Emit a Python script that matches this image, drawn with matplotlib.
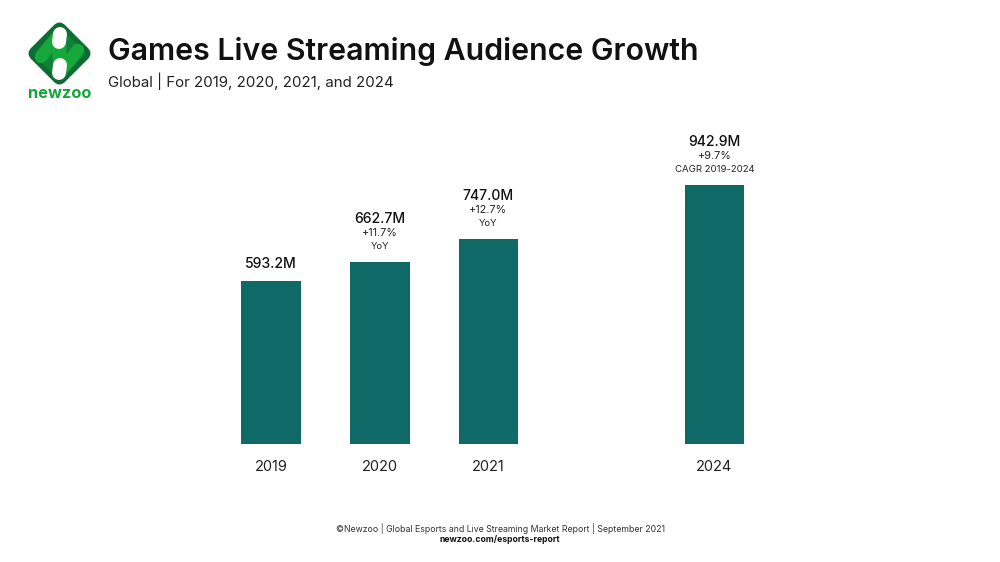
import numpy as np
import matplotlib
matplotlib.use('Agg')
import matplotlib.pyplot as plt
from matplotlib.patches import FancyBboxPatch, Polygon
from matplotlib.transforms import Affine2D

years = ['2019', '2020', '2021', '2024']
audience = [593.2, 662.7, 747.0, 942.9]
growth = ['', '+11.7%', '+12.7%', '+9.7%']
growth_note = ['', 'YoY', 'YoY', 'CAGR 2019-2024']
bar_x = [0, 1.005, 2, 4.08]

title = 'Games Live Streaming Audience Growth'
subtitle = 'Global | For 2019, 2020, 2021, and 2024'
source = '©Newzoo | Global Esports and Live Streaming Market Report | September 2021'
link = 'newzoo.com/esports-report'

plt.rcParams['font.family'] = ['Inter', 'DejaVu Sans']
TEAL = '#0f6a67'
INK = '#111111'

W, H = 1000, 562
fig = plt.figure(figsize=(10, 5.62), dpi=100, facecolor='white')

# bars
ax = fig.add_axes([0.2, 1 - 444 / H, 0.6, 300 / H])
ax.bar(bar_x, audience, width=0.547, color=TEAL)
ax.set_xlim(-0.653, 4.867)
ax.set_ylim(0, 300 / 0.2747)
ax.set_yticks([])
ax.set_xticks(bar_x)
ax.set_xticklabels(years, fontsize=10.5, color='#222222')
ax.tick_params(axis='x', length=0, pad=11.5)
for s in ax.spines.values():
    s.set_visible(False)
ax.patch.set_alpha(0)

for x, v, g, n in zip(bar_x, audience, growth, growth_note):
    if g:
        ax.annotate(f'{v:.1f}M', (x, v), xytext=(0, 26), textcoords='offset points',
                    ha='center', va='bottom', fontsize=10.1, fontweight='medium', color=INK)
        ax.annotate(g, (x, v), xytext=(0, 17), textcoords='offset points',
                    ha='center', va='bottom', fontsize=7.8, color='#222222')
        ax.annotate(n, (x, v), xytext=(0, 8), textcoords='offset points',
                    ha='center', va='bottom', fontsize=6.9, color='#222222')
    else:
        ax.annotate(f'{v:.1f}M', (x, v), xytext=(0, 7.5), textcoords='offset points',
                    ha='center', va='bottom', fontsize=10.1, fontweight='medium', color=INK)

# header and footer
fig.text(108 / W, 1 - 52 / H, title, fontsize=21.8, fontweight='semibold', color=INK, va='center')
fig.text(108 / W, 1 - 81 / H, subtitle, fontsize=10.8, color='#222222', va='center')
fig.text(500 / W, 1 - 529 / H, source, fontsize=6.3, color='#333333', ha='center', va='center')
fig.text(500 / W, 1 - 539 / H, link, fontsize=6.2, fontweight='bold', color=INK, ha='center', va='center')

# logo, drawn in pixel coordinates
lg = fig.add_axes([0, 0, 1, 1], zorder=5)
lg.set_xlim(0, W)
lg.set_ylim(H, 0)
lg.axis('off')
cx, cy = 59.5, 53.5
rot = Affine2D().rotate_deg_around(cx, cy, 45) + lg.transData
lg.add_patch(FancyBboxPatch((cx - 24, cy - 24), 48, 48, boxstyle='round,pad=0,rounding_size=8',
                            fc='#0d6b33', ec='none', transform=rot))
lg.add_patch(FancyBboxPatch((cx - 19, cy - 19), 38, 38, boxstyle='round,pad=0,rounding_size=5',
                            fc='#0f8238', ec='none', transform=rot))
STRIPE = '#16a83a'
lg.plot([58, 41], [36, 57], color=STRIPE, lw=9, solid_capstyle='round')
lg.plot([78, 61], [50, 71], color=STRIPE, lw=9, solid_capstyle='round')
lg.add_patch(Polygon([(52, 47), (66, 40), (67, 60), (53, 66)], fc=STRIPE, ec='none'))
lg.plot([60, 59], [34, 42], color='white', lw=10, solid_capstyle='round')
lg.plot([60, 59], [65, 73], color='white', lw=10, solid_capstyle='round')
lg.text(59.5, 93, 'newzoo', fontsize=11.8, fontweight='bold', color='#13a538', ha='center', va='center')

fig.savefig('out.png', dpi=100, facecolor='white')
